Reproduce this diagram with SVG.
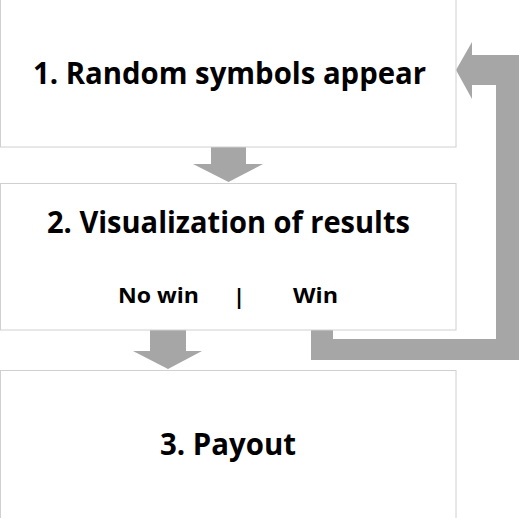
<svg xmlns="http://www.w3.org/2000/svg" width="519" height="518" viewBox="0 0 519 518">
<style>
.box{fill:#ffffff;stroke:#d0d0d0;stroke-width:1}
.arr{fill:#a6a6a6;stroke:none}
.t{font-family:"Open Sans","Noto Sans","Liberation Sans",sans-serif;font-weight:bold;fill:#000000}
</style>
<rect width="519" height="518" fill="#ffffff"/>
<g id="connectors">
<polygon class="arr" points="211,147 246,147 246,164 263,164 228.5,182 193,164 211,164"/>
<polygon class="arr" points="150,330 186,330 186,351 202,351 168,369 133,351 150,351"/>
<polygon class="arr" points="311,320 333,320 333,339 496,339 496,85 472,85 472,99 456,70 472,42 472,55 519,55 519,360 311,360"/>
</g>
<g id="node1">
<rect class="box" x="0.5" y="-1" width="455.5" height="148"/>
<text class="t" x="33" y="84" font-size="31" textLength="393" lengthAdjust="spacingAndGlyphs">1. Random symbols appear</text>
</g>
<g id="node2">
<rect class="box" x="0.5" y="183.5" width="455.5" height="146.5"/>
<text class="t" x="47" y="233" font-size="31" textLength="363" lengthAdjust="spacingAndGlyphs">2. Visualization of results</text>
<text class="t" x="118" y="303" font-size="21" textLength="81" lengthAdjust="spacingAndGlyphs">No win</text>
<text class="t" x="233" y="304" font-size="22">|</text>
<text class="t" x="293" y="303" font-size="21" textLength="45" lengthAdjust="spacingAndGlyphs">Win</text>
</g>
<g id="node3">
<rect class="box" x="0.5" y="370.5" width="455.5" height="148"/>
<text class="t" x="160" y="455" font-size="30" textLength="136" lengthAdjust="spacingAndGlyphs">3. Payout</text>
</g>
</svg>
